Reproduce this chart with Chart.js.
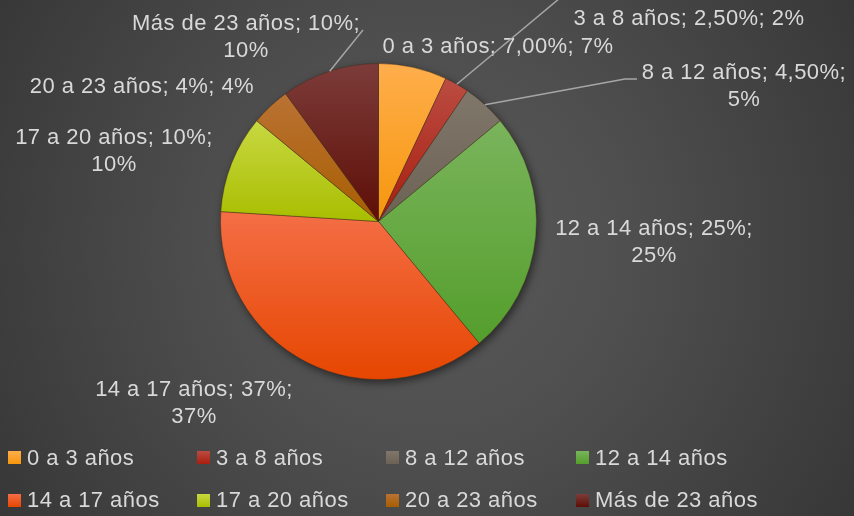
<!DOCTYPE html>
<html>
<head>
<meta charset="utf-8">
<script src="https://cdn.jsdelivr.net/npm/chart.js@4.4.1/dist/chart.umd.min.js"></script>
<style>
  html, body { margin: 0; padding: 0; background: #3a3a3a; }
  #wrap {
    width: 854px; height: 516px; position: relative; overflow: hidden;
    background: radial-gradient(circle farthest-corner at 50% 48%, #5a5a5a 0%, #4f4f4f 40%, #373737 100%);
  }
  canvas { display: block; }
</style>
</head>
<body>
<div id="wrap"><canvas id="c" width="854" height="516"></canvas></div>
<script>
// ---- data ----
const categories = ['0 a 3 años', '3 a 8 años', '8 a 12 años', '12 a 14 años',
                    '14 a 17 años', '17 a 20 años', '20 a 23 años', 'Más de 23 años'];
const values = [7, 2.5, 4.5, 25, 37, 10, 4, 10];
const valueLabels = ['7,00%', '2,50%', '4,50%', '25%', '37%', '10%', '4%', '10%'];
const percentLabels = ['7%', '2%', '5%', '25%', '37%', '10%', '4%', '10%'];

// ---- styles ----
const lightColors = ['#ffae4c', '#bb4c42', '#80776b', '#7ab45c', '#f46e46', '#c8d842', '#ba7234', '#7c3c3a'];
const darkColors  = ['#f6960c', '#a81e0e', '#6c6254', '#549e2c', '#e64600', '#a8be00', '#a85e00', '#5e0e06'];
const TEXT = '#d9d9d9';
const LINE = '#a6a6a6';

// label placement (centre x, first baseline y, wrap last part, leader end points)
const labelLayout = [
  { x: 498, y: 53,  wrap: false, lead: null },
  { x: 689, y: 25,  wrap: false, lead: [[560, -2]] },
  { x: 744, y: 79,  wrap: true,  lead: [[625, 79], [637, 79]] },
  { x: 654, y: 235, wrap: true,  lead: null },
  { x: 194, y: 396, wrap: true,  lead: null },
  { x: 114, y: 144, wrap: true,  lead: null },
  { x: 142, y: 93,  wrap: false, lead: null },
  { x: 246, y: 30,  wrap: true,  lead: [[363, 30]] }
];
const lineGap = 27;
const legendCols = [8, 197, 386, 576];
const legendRows = [{ box: 451, text: 465 }, { box: 494, text: 507 }];

const total = values.reduce((a, b) => a + b, 0);

function sectorGradient(ctx) {
  const chart = ctx.chart;
  const i = ctx.dataIndex;
  const area = chart.chartArea;
  if (!area || i === undefined) return lightColors[i] || '#888';
  const cx = (area.left + area.right) / 2;
  const cy = (area.top + area.bottom) / 2;
  const r = Math.min(area.right - area.left, area.bottom - area.top) / 2;
  let before = 0;
  for (let k = 0; k < i; k++) before += values[k];
  const a0 = -Math.PI / 2 + before / total * 2 * Math.PI;
  const a1 = a0 + values[i] / total * 2 * Math.PI;
  const ys = [cy, cy + r * Math.sin(a0), cy + r * Math.sin(a1)];
  for (const t of [Math.PI / 2, 3 * Math.PI / 2, 5 * Math.PI / 2]) {
    if (t > a0 && t < a1) ys.push(cy + r * Math.sin(t));
  }
  const minY = Math.min(...ys), maxY = Math.max(...ys);
  const g = chart.ctx.createLinearGradient(0, minY, 0, maxY + 0.01);
  g.addColorStop(0, lightColors[i]);
  g.addColorStop(1, darkColors[i]);
  return g;
}

const shadowPlugin = {
  id: 'pieShadow',
  beforeDatasetsDraw(chart) {
    const arc = chart.getDatasetMeta(0).data[0];
    if (!arc) return;
    const c = chart.ctx;
    c.save();
    c.beginPath();
    c.arc(arc.x, arc.y, arc.outerRadius, 0, Math.PI * 2);
    c.shadowColor = 'rgba(0,0,0,0.55)';
    c.shadowBlur = 9;
    c.shadowOffsetX = 2;
    c.shadowOffsetY = 3;
    c.fillStyle = '#555';
    c.fill();
    c.restore();
  }
};

const labelPlugin = {
  id: 'sliceLabels',
  afterDatasetsDraw(chart) {
    const c = chart.ctx;
    const arcs = chart.getDatasetMeta(0).data;
    c.save();
    c.font = '22px "Liberation Sans", Arial, sans-serif';
    c.letterSpacing = '0.45px';
    c.fillStyle = TEXT;
    c.textAlign = 'center';
    c.textBaseline = 'alphabetic';
    categories.forEach((cat, i) => {
      const L = labelLayout[i];
      const lines = L.wrap
        ? [cat + '; ' + valueLabels[i] + ';', percentLabels[i]]
        : [cat + '; ' + valueLabels[i] + '; ' + percentLabels[i]];
      lines.forEach((t, j) => c.fillText(t, L.x, L.y + j * lineGap));
      if (L.lead) {
        const a = arcs[i];
        const mid = (a.startAngle + a.endAngle) / 2;
        const sx = a.x + a.outerRadius * Math.cos(mid);
        const sy = a.y + a.outerRadius * Math.sin(mid);
        c.beginPath();
        c.moveTo(sx, sy);
        L.lead.forEach(p => c.lineTo(p[0], p[1]));
        c.strokeStyle = LINE;
        c.lineWidth = 1.5;
        c.stroke();
      }
    });
    c.restore();
  }
};

const legendPlugin = {
  id: 'gridLegend',
  afterDraw(chart) {
    const c = chart.ctx;
    c.save();
    c.font = '22px "Liberation Sans", Arial, sans-serif';
    c.letterSpacing = '0.45px';
    c.fillStyle = TEXT;
    c.textAlign = 'left';
    c.textBaseline = 'alphabetic';
    categories.forEach((cat, i) => {
      const col = legendCols[i % 4];
      const row = legendRows[Math.floor(i / 4)];
      const g = c.createLinearGradient(0, row.box, 0, row.box + 13);
      g.addColorStop(0, lightColors[i]);
      g.addColorStop(1, darkColors[i]);
      c.fillStyle = g;
      c.fillRect(col, row.box, 13, 13);
      c.fillStyle = TEXT;
      c.fillText(cat, col + 19, row.text);
    });
    c.restore();
  }
};

new Chart(document.getElementById('c'), {
  type: 'pie',
  data: {
    labels: categories,
    datasets: [{
      data: values,
      backgroundColor: sectorGradient,
      borderColor: 'rgba(60,40,20,0.45)',
      borderWidth: 1
    }]
  },
  options: {
    responsive: false,
    animation: false,
    layout: { padding: { left: 220, right: 317, top: 63, bottom: 136 } },
    plugins: {
      legend: { display: false },
      tooltip: { enabled: false },
      title: { display: false }
    }
  },
  plugins: [shadowPlugin, labelPlugin, legendPlugin]
});
</script>
</body>
</html>
